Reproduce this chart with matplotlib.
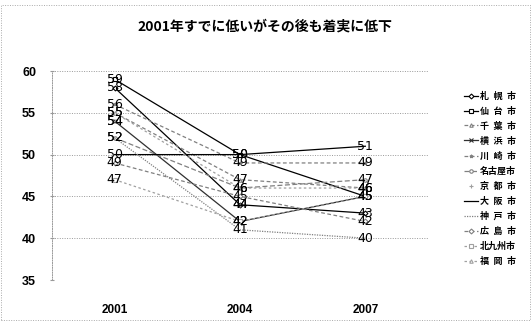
import matplotlib
matplotlib.use("Agg")
import matplotlib.pyplot as plt
from matplotlib.patches import Rectangle

years = ["2001", "2004", "2007"]
cities = ["札\u2002幌\u2002市", "仙\u2002台\u2002市", "千\u2002葉\u2002市", "横\u2002浜\u2002市",
          "川\u2002崎\u2002市", "名古屋市", "京\u2002都\u2002市", "大\u2002阪\u2002市",
          "神\u2002戸\u2002市", "広\u2002島\u2002市", "北九州市", "福\u2002岡\u2002市"]
sapporo = [58, 44, 43]
sendai = [59, 50, 45]
chiba = [55, 47, 46]
yokohama = [54, 42, 45]
kawasaki = [56, 49, 49]
nagoya = [52, 46, 47]
kyoto = [54, 44, 46]
osaka = [50, 50, 51]
kobe = [52, 41, 40]
hiroshima = [49, 45, 42]
kitakyushu = [47, 42, 45]
fukuoka = [55, 46, 46]
series = [sapporo, sendai, chiba, yokohama, kawasaki, nagoya, kyoto, osaka,
          kobe, hiroshima, kitakyushu, fukuoka]
yticks = [35, 40, 45, 50, 55, 60]

styles = [
    dict(color="#000000", ls="-", marker="D"),
    dict(color="#000000", ls="-", marker="s"),
    dict(color="#808080", ls=(0, (3, 2)), marker="^"),
    dict(color="#303030", ls="-", marker="x"),
    dict(color="#808080", ls=(0, (3, 2)), marker="*"),
    dict(color="#808080", ls=(0, (4, 2)), marker="o"),
    dict(color="#a0a0a0", ls="none", marker="+"),
    dict(color="#000000", ls="-", marker=None),
    dict(color="#808080", ls=(0, (1, 1)), marker=None),
    dict(color="#808080", ls=(0, (3, 2)), marker="D"),
    dict(color="#a0a0a0", ls=(0, (2, 2)), marker="s"),
    dict(color="#a0a0a0", ls=(0, (2, 2)), marker="^"),
]

fam = ["Noto Sans CJK JP", "DejaVu Sans"]
plt.rcParams["font.family"] = fam

fig = plt.figure(figsize=(5.31, 3.21), dpi=100)
ax = fig.add_axes([52/531, 1-280/321, (428-52)/531, (280-71)/321])

x = list(range(len(years)))
handles = []
for name, vals, st in zip(cities, series, styles):
    h, = ax.plot(x, vals, color=st["color"], linestyle=st["ls"], linewidth=0.9,
                 marker=st["marker"], markersize=2.5,
                 markerfacecolor="white" if st["marker"] in ("D", "s", "^", "o") else st["color"],
                 markeredgecolor=st["color"], markeredgewidth=0.8, label=name)
    handles.append(h)
    for xi, v in zip(x, vals):
        ax.text(xi, v, str(v), ha="center", va="center", fontsize=9,
                family=["Liberation Sans Narrow", "DejaVu Sans"], color="black", zorder=5)

ax.set_xlim(-0.5, 2.5)
ax.set_ylim(35, 60)
ax.set_yticks(yticks)
ax.set_yticklabels([str(v) for v in yticks], fontsize=9, fontweight="bold",
                   family=["Liberation Sans", "DejaVu Sans"])
ax.set_xticks(x)
ax.set_xticklabels(years, fontsize=8.5, fontweight="bold", family=["Liberation Sans", "DejaVu Sans"])
ax.tick_params(axis="x", length=0, pad=17)
ax.tick_params(axis="y", length=3, direction="inout", color="#999999", pad=10)
ax.grid(axis="y", color="#999999", linestyle=(0, (1, 1.5)), linewidth=0.7)
for s in ["top", "right"]:
    ax.spines[s].set_visible(False)
ax.spines["bottom"].set_visible(False)
ax.spines["left"].set_color("#999999")
ax.spines["left"].set_linestyle((0, (1, 1.5)))
ax.spines["left"].set_linewidth(0.7)

fig.text(265/531, 1-27/321, "2001年すでに低いがその後も着実に低下", ha="center", va="center",
         fontsize=10, fontweight="bold", family=fam)

leg = fig.legend(handles=handles, loc="upper left", bbox_to_anchor=(460/531, 1-88/321),
                 frameon=False, fontsize=6.5, handlelength=1.6, handletextpad=0.2,
                 labelspacing=0.66, borderaxespad=0)
for t in leg.get_texts():
    t.set_fontweight("bold")

fig.patches.append(Rectangle((1/531, 1/321), 529/531, 1-6/321, transform=fig.transFigure,
                             fill=False, edgecolor="#aaaaaa", linestyle=(0, (1, 1.5)), linewidth=0.7))

fig.savefig("out.png", dpi=100)
